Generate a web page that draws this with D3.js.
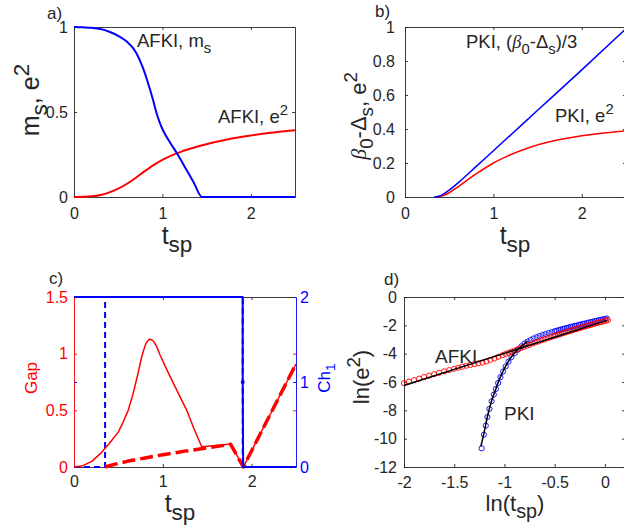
<!DOCTYPE html>
<html><head><meta charset="utf-8">
<script src="https://cdn.jsdelivr.net/npm/d3@7"></script>
<style>
body{margin:0;background:#fff}
svg{display:block}
text{font-family:"Liberation Sans",Arial,Helvetica,sans-serif}
</style>
</head><body>
<svg id="fig" width="624" height="531"></svg>
<script>
// ---------- DATA ----------
// Panel a: AFKI m_s and e^2 vs t_sp
const aMsT = [0,0.1,0.2,0.3,0.4,0.5,0.593,0.705,0.78,0.837,0.893,0.93,0.965,1.0,1.04,1.09,1.176,1.25,1.35,1.448,2.5];
const aMsV = [1,0.998,0.995,0.988,0.972,0.948,0.916,0.847,0.759,0.671,0.573,0.5,0.445,0.4,0.36,0.318,0.247,0.18,0.09,0,0];
const aE2T = [0,0.2,0.3,0.4,0.5,0.6,0.7,0.8,0.9,1.0,1.1,1.2,1.4,1.6,1.8,2.0,2.2,2.5];
const aE2V = [0,0.004,0.012,0.027,0.049,0.078,0.113,0.152,0.188,0.218,0.243,0.264,0.297,0.323,0.345,0.362,0.376,0.392];
// Panel b: PKI (beta0-Delta_s)/3 and e^2
const bDT = [0.33,0.38,0.42,0.46,0.5,0.6,0.8,1.0,1.5,2.0,2.5];
const bDV = [0,0.004,0.013,0.026,0.04,0.083,0.177,0.272,0.51,0.748,0.99];
const bE2T = [0.35,0.4,0.45,0.5,0.6,0.7,0.8,1.0,1.2,1.4,1.6,1.8,2.0,2.2,2.5];
const bE2V = [0,0.004,0.012,0.025,0.06,0.098,0.134,0.2,0.25,0.29,0.32,0.342,0.36,0.374,0.39];
// Panel c: Gap (left axis) and Ch_1 (right axis)
const cGapAT = [0,0.1,0.2,0.3,0.35,0.4,0.5,0.55,0.61,0.66,0.71,0.762,0.8,0.825,0.848,0.87,0.9,0.93,0.968,1.05,1.15,1.27,1.35,1.438,1.6,1.764,1.907,2.5];
const cGapAV = [0,0.012,0.05,0.12,0.165,0.21,0.31,0.39,0.5,0.63,0.79,0.97,1.07,1.11,1.127,1.125,1.105,1.065,0.99,0.85,0.69,0.5,0.34,0.179,0.19,0.203,0,0.909];
const cGapPT = [0.35,0.45,0.6,0.8,1.0,1.25,1.5,1.764,1.907,2.5];
const cGapPV = [0,0.022,0.05,0.08,0.108,0.14,0.168,0.2,0,0.909];
const cChPT = [0,0.35,0.35,1.9,1.9,2.5];
const cChPV = [0,0,2,2,0,0];
const cChAT = [0,1.9,1.9,1.905,2.5];
const cChAV = [2,2,1,0,0];
const cDotT = [1.9];
const cDotV = [1];
// Panel d: ln(e^2) vs ln(t_sp)
const dAfX = [-2.00,-1.95,-1.90,-1.85,-1.80,-1.75,-1.70,-1.65,-1.60,-1.55,-1.50,-1.46,-1.42,-1.38,-1.34,-1.30,-1.26,-1.22,-1.18,-1.14,-1.10,-1.06,-1.02,-0.99,-0.96,-0.93,-0.90,-0.87,-0.84,-0.81,-0.78,-0.75,-0.72,-0.69,-0.66,-0.63,-0.60,-0.57,-0.54,-0.51,-0.49,-0.47,-0.45,-0.43,-0.41,-0.39,-0.37,-0.35,-0.33,-0.31,-0.29,-0.27,-0.25,-0.23,-0.21,-0.19,-0.17,-0.15,-0.13,-0.11,-0.09,-0.07,-0.05,-0.03,-0.01,0.01,0.03];
const dAfY = [-6.08,-5.97,-5.87,-5.76,-5.65,-5.55,-5.45,-5.35,-5.25,-5.16,-5.07,-4.99,-4.92,-4.85,-4.80,-4.74,-4.68,-4.63,-4.55,-4.44,-4.34,-4.22,-4.11,-4.02,-3.94,-3.86,-3.78,-3.70,-3.61,-3.53,-3.45,-3.37,-3.28,-3.20,-3.13,-3.05,-2.98,-2.91,-2.84,-2.76,-2.72,-2.67,-2.63,-2.58,-2.53,-2.49,-2.44,-2.40,-2.36,-2.31,-2.27,-2.23,-2.19,-2.14,-2.10,-2.06,-2.02,-1.98,-1.94,-1.90,-1.86,-1.82,-1.79,-1.75,-1.71,-1.67,-1.63];
const dPkX = [-1.227,-1.205,-1.186,-1.170,-1.150,-1.128,-1.106,-1.085,-1.063,-1.040,-1.014,-0.988,-0.960,-0.930,-0.898,-0.865,-0.832,-0.80,-0.77,-0.74,-0.71,-0.68,-0.65,-0.62,-0.59,-0.56,-0.53,-0.50,-0.48,-0.46,-0.44,-0.42,-0.40,-0.38,-0.36,-0.34,-0.32,-0.30,-0.28,-0.26,-0.24,-0.22,-0.20,-0.18,-0.16,-0.14,-0.12,-0.10,-0.08,-0.06,-0.04,-0.02,0.00,0.017];
const dPkY = [-10.68,-9.72,-9.08,-8.47,-7.90,-7.36,-6.89,-6.49,-6.07,-5.66,-5.26,-4.90,-4.56,-4.24,-3.96,-3.71,-3.48,-3.29,-3.15,-3.03,-2.93,-2.84,-2.76,-2.68,-2.61,-2.54,-2.48,-2.42,-2.38,-2.34,-2.30,-2.26,-2.22,-2.19,-2.15,-2.11,-2.08,-2.04,-2.01,-1.97,-1.94,-1.90,-1.87,-1.84,-1.80,-1.77,-1.74,-1.71,-1.67,-1.64,-1.61,-1.58,-1.55,-1.52];
const dFitAfX = [-2.0,0.02];
const dFitAfY = [-6.25,-1.65];
const dFitPkX = [-1.235,-1.205,-1.17,-1.128,-1.085,-1.04,-0.988,-0.93,-0.865,-0.80,-0.77];
const dFitPkY = [-10.55,-9.65,-8.45,-7.33,-6.47,-5.64,-4.88,-4.22,-3.70,-3.28,-3.12];
// ticks
const ticksT = [0,1,2];
const ticksA = [0,0.5,1];
const ticksB = [0,0.2,0.4,0.6,0.8,1];
const ticksCL = [0,0.5,1,1.5];
const ticksCR = [0,1,2];
const ticksDX = [-2,-1.5,-1,-0.5,0];
const ticksDY = [0,-2,-4,-6,-8,-10,-12];

// ---------- DRAWING ----------
const svg = d3.select('#fig');
const AX = '#262626', RED = '#ff0000', BLUE = '#0000ff';
const fmt = d => String(d);

function styleAxis(sel, color, fs) {
  sel.attr('font-family', null).attr('font-size', null);
  sel.select('.domain').attr('stroke', color).attr('stroke-width', 0.9);
  sel.selectAll('.tick line').attr('stroke', color).attr('stroke-width', 0.9);
  sel.selectAll('.tick text').attr('fill', color).attr('font-size', fs);
}
function box(x, y, o) {
  const [x0, x1] = x.range(), [y0, y1] = y.range();
  const g = svg.append('g');
  g.append('g').attr('transform', `translate(0,${y1})`)
    .call(d3.axisTop(x).tickValues(o.xt).tickSize(-3).tickSizeOuter(0).tickFormat(''))
    .call(s => styleAxis(s, o.topColor || AX, 16));
  if (!o.noRight) {
    g.append('g').attr('transform', `translate(${x1},0)`)
      .call(d3.axisRight(y).tickValues(o.yt).tickSize(-3).tickSizeOuter(0).tickFormat(''))
      .call(s => styleAxis(s, AX, 16));
  }
  g.append('g').attr('transform', `translate(0,${y0})`)
    .call(d3.axisBottom(x).tickValues(o.xt).tickSize(-3).tickSizeOuter(0).tickPadding(o.xpad).tickFormat(fmt))
    .call(s => styleAxis(s, AX, 16));
  g.append('g').attr('transform', `translate(${x0},0)`)
    .call(d3.axisLeft(y).tickValues(o.yt).tickSize(-3).tickSizeOuter(0).tickPadding(o.ypad).tickFormat(fmt))
    .call(s => styleAxis(s, o.leftColor || AX, 16));
}
function rich(x, y, parts, o) {
  const f = o.size, fs = f * (o.subScale || 0.8);
  const t = svg.append('text').attr('x', x).attr('y', y)
    .attr('font-size', f).attr('fill', o.fill || AX)
    .attr('text-anchor', o.anchor || 'start');
  if (o.rotate) t.attr('transform', `rotate(${o.rotate},${x},${y})`);
  let cur = 0;
  parts.forEach(p => {
    const [txt, kind, style] = p;
    let off = 0, size = f;
    if (kind === 'sub') { off = f * 0.3; size = fs; }
    if (kind === 'sup') { off = -f * 0.42; size = fs; }
    const ts = t.append('tspan').attr('dy', off - cur).attr('font-size', size).text(txt);
    if (style === 'it') ts.attr('font-style', 'italic').attr('font-family', '"Liberation Serif","DejaVu Serif",serif');
    cur = off;
  });
  return t;
}
function line(x, y, xs, ys, color, w, dash, smooth) {
  const pts = xs.map((v, i) => [v, ys[i]]);
  const gen = d3.line().x(d => x(d[0])).y(d => y(d[1]));
  if (smooth) gen.curve(d3.curveMonotoneX);
  const p = svg.append('path').datum(pts)
    .attr('d', gen)
    .attr('fill', 'none').attr('stroke', color).attr('stroke-width', w)
    .attr('stroke-linejoin', 'round');
  if (dash) p.attr('stroke-dasharray', dash);
  return p;
}

// Panel a
{
  const x = d3.scaleLinear().domain([0, 2.5]).range([74, 295]);
  const y = d3.scaleLinear().domain([0, 1]).range([197, 27]);
  box(x, y, {xt: ticksT, yt: ticksA, xpad: 10.6, ypad: 6});
  line(x, y, aE2T, aE2V, RED, 2, null, true);
  line(x, y, aMsT, aMsV, BLUE, 2, null, true);
  rich(47, 19, [['a)']], {size: 17});
  rich(137, 47, [['AFKI, m'], ['s', 'sub']], {size: 18.5});
  rich(218, 123, [['AFKI, e'], ['2', 'sup']], {size: 18.5});
  rich(39, 100, [['m'], ['s', 'sub'], [', e'], ['2', 'sup']], {size: 25, rotate: -90, anchor: 'middle', subScale: 0.9});
  rich(177, 244, [['t'], ['sp', 'sub']], {size: 25, anchor: 'middle', subScale: 0.9});
}
// Panel b
{
  const x = d3.scaleLinear().domain([0, 2.5]).range([405, 626]);
  const y = d3.scaleLinear().domain([0, 1]).range([197, 27]);
  box(x, y, {xt: ticksT, yt: ticksB, xpad: 10.6, ypad: 10});
  line(x, y, bE2T, bE2V, RED, 1.5, null, true);
  line(x, y, bDT, bDV, BLUE, 1.5, null, true);
  rich(375, 17, [['b)']], {size: 17});
  rich(466, 48, [['PKI, ('], ['β', '', 'it'], ['0', 'sub'], ['-Δ'], ['s', 'sub'], [')/3']], {size: 18.5});
  rich(555, 122, [['PKI, e'], ['2', 'sup']], {size: 18.5});
  rich(366, 116, [['β', '', 'it'], ['0', 'sub'], ['-Δ'], ['s', 'sub'], [', e'], ['2', 'sup']], {size: 22, rotate: -90, anchor: 'middle', subScale: 0.85});
  rich(515, 244, [['t'], ['sp', 'sub']], {size: 25, anchor: 'middle', subScale: 0.9});
}
// Panel c
{
  const x = d3.scaleLinear().domain([0, 2.5]).range([74, 296]);
  const yL = d3.scaleLinear().domain([0, 1.5]).range([467, 297]);
  const yR = d3.scaleLinear().domain([0, 2]).range([467, 297]);
  box(x, yL, {xt: ticksT, yt: ticksCL, xpad: 8.6, ypad: 6, leftColor: RED, noRight: true});
  const gR = svg.append('g').attr('transform', `translate(296,0)`)
    .call(d3.axisRight(yR).tickValues(ticksCR).tickSize(-3).tickSizeOuter(0).tickPadding(4).tickFormat(fmt))
    .call(s => styleAxis(s, BLUE, 16));
  gR.selectAll('.tick text').attr('x', 4);
  svg.append('g').attr('transform', `translate(296,0)`)
    .call(d3.axisRight(yL).tickValues([0.5, 1]).tickSize(-3).tickSizeOuter(0).tickFormat(''))
    .call(s => { styleAxis(s, RED, 16); s.select('.domain').remove(); });
  svg.append('g').attr('transform', `translate(74,0)`)
    .call(d3.axisLeft(yR).tickValues([1]).tickSize(-3).tickSizeOuter(0).tickFormat(''))
    .call(s => { styleAxis(s, BLUE, 16); s.select('.domain').remove(); });
  line(x, yR, cChPT, cChPV, BLUE, 2, '6,4');
  line(x, yL, cGapAT, cGapAV, RED, 1.5);
  line(x, yL, cGapPT, cGapPV, RED, 3.5, '13,5');
  line(x, yR, cChAT, cChAV, BLUE, 2);
  svg.selectAll('circle.dot').data(cDotT).enter().append('circle')
    .attr('cx', (d) => x(d)).attr('cy', (d, i) => yR(cDotV[i])).attr('r', 2).attr('fill', BLUE);
  rich(49, 284, [['c)']], {size: 17});
  rich(37, 378, [['Gap']], {size: 17, rotate: -90, anchor: 'middle', fill: RED});
  rich(330, 378, [['Ch'], ['1', 'sub']], {size: 17, rotate: -90, anchor: 'middle', fill: BLUE});
  rich(180, 512, [['t'], ['sp', 'sub']], {size: 25, anchor: 'middle', subScale: 0.9});
}
// Panel d
{
  const x = d3.scaleLinear().domain([-2, 0.2]).range([404, 625]);
  const y = d3.scaleLinear().domain([-12, 0]).range([467, 297]);
  box(x, y, {xt: ticksDX, yt: ticksDY, xpad: 9.6, ypad: 7});
  const circ = (xs, ys, color) => svg.append('g').selectAll('circle').data(xs).enter().append('circle')
    .attr('cx', d => x(d)).attr('cy', (d, i) => y(ys[i])).attr('r', 2.6)
    .attr('fill', 'none').attr('stroke', color).attr('stroke-width', 0.9);
  circ(dPkX, dPkY, BLUE);
  circ(dAfX, dAfY, RED);
  line(x, y, dFitAfX, dFitAfY, '#000', 1.5);
  line(x, y, dFitPkX, dFitPkY, '#000', 1.5, null, true);
  rich(384, 285, [['d)']], {size: 17});
  rich(435, 363, [['AFKI']], {size: 19});
  rich(504, 420, [['PKI']], {size: 19});
  rich(369, 377, [['ln(e'], ['2', 'sup'], [')']], {size: 22, rotate: -90, anchor: 'middle', subScale: 0.85});
  rich(515, 511, [['ln(t'], ['sp', 'sub'], [')']], {size: 22, anchor: 'middle', subScale: 0.9});
}
</script>
</body></html>
